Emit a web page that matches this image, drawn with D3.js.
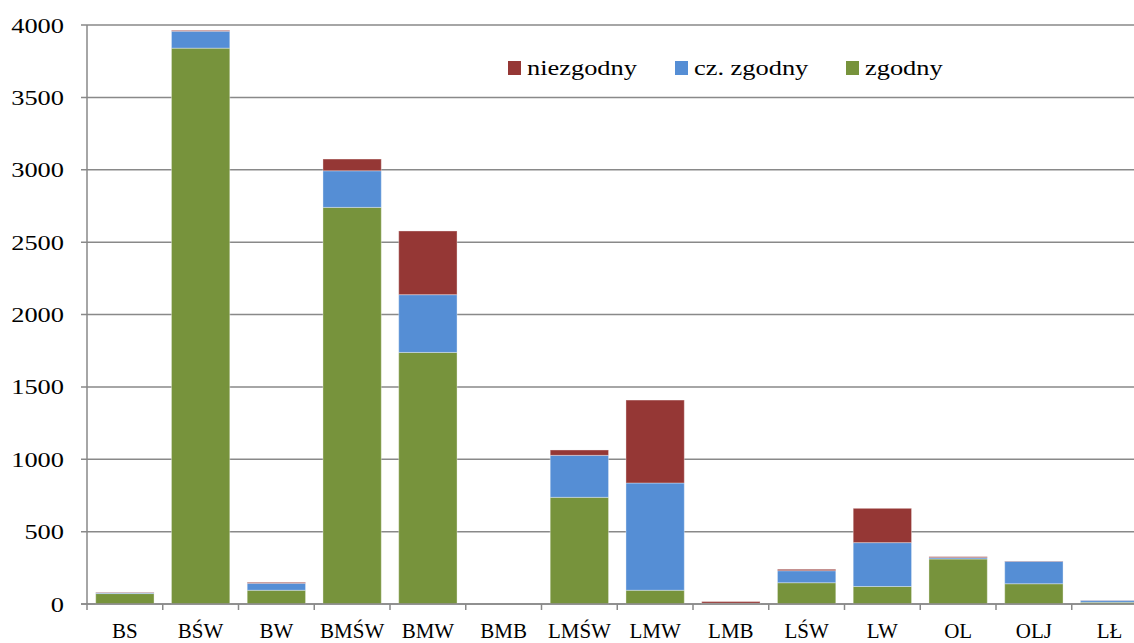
<!DOCTYPE html>
<html>
<head>
<meta charset="utf-8">
<script src="https://cdn.jsdelivr.net/npm/d3@7"></script>
<style>
  body { margin: 0; background: #fff; }
  svg text { font-family: "Liberation Serif", "Times New Roman", serif; fill: #000; }
</style>
</head>
<body>
<div id="chart"></div>
<script>
// categories and stacked series
const categories = ["BS", "BŚW", "BW", "BMŚW", "BMW", "BMB", "LMŚW", "LMW", "LMB", "LŚW", "LW", "OL", "OLJ", "LŁ"];
const zgodny    = [72, 3840, 95, 2740, 1738, 0, 737, 95, 3, 147, 121, 311, 140, 12];
const czZgodny  = [6, 117, 48, 253, 399, 0, 290, 741, 2, 83, 303, 9, 155, 13];
const niezgodny = [3, 6, 7, 81, 440, 0, 37, 573, 12, 10, 237, 7, 2, 1];
const yTicks = [0, 500, 1000, 1500, 2000, 2500, 3000, 3500, 4000];

const seriesNames = ["zgodny", "cz. zgodny", "niezgodny"];
const colors = {"zgodny": "#77933c", "cz. zgodny": "#558ed5", "niezgodny": "#953735"};
const legendOrder = ["niezgodny", "cz. zgodny", "zgodny"];

const W = 1134, H = 643;
const sx = 1.2; // y labels and legend look horizontally stretched in the reference

let svg = d3.select("#chart").append("svg")
    .attr("width", W)
    .attr("height", H);

let table = categories.map((c, i) => ({
    cat: c,
    "zgodny": zgodny[i],
    "cz. zgodny": czZgodny[i],
    "niezgodny": niezgodny[i]
}));

let x = d3.scaleBand()
    .domain(categories)
    .range([87, 87 + 14 * 75.75])
    .paddingInner(0.23)
    .paddingOuter(0.115);

let y = d3.scaleLinear()
    .domain([0, 4000])
    .range([604, 25]);

// gridlines
svg.append("g").selectAll("line")
    .data(yTicks)
    .join("line")
    .attr("x1", 81)
    .attr("x2", W)
    .attr("y1", d => y(d))
    .attr("y2", d => y(d))
    .attr("stroke", "#898989")
    .attr("stroke-width", 1.5);

// y labels
svg.append("g").selectAll("text")
    .data(yTicks)
    .join("text")
    .attr("transform", d => `translate(64,${y(d) + 7.5}) scale(${sx},1)`)
    .attr("text-anchor", "end")
    .attr("font-size", 22)
    .text(d => d);

// y axis line
svg.append("line")
    .attr("x1", 87).attr("x2", 87)
    .attr("y1", y(4000)).attr("y2", y(0))
    .attr("stroke", "#898989")
    .attr("stroke-width", 1.5);

// stacked bars
let stack = d3.stack().keys(seriesNames);
let layers = stack(table);

svg.append("g").selectAll("g")
    .data(layers)
    .join("g")
    .attr("fill", d => colors[d.key])
    .selectAll("rect")
    .data(d => d)
    .join("rect")
    .attr("x", d => x(d.data.cat))
    .attr("width", x.bandwidth())
    .attr("y", d => y(d[1]))
    .attr("height", d => Math.max(0, y(d[0]) - y(d[1])))
    .attr("stroke", "#ffffff")
    .attr("stroke-opacity", 0.35)
    .attr("stroke-width", 1);

// x axis line and ticks
svg.append("line")
    .attr("x1", 81).attr("x2", W)
    .attr("y1", y(0)).attr("y2", y(0))
    .attr("stroke", "#898989")
    .attr("stroke-width", 1.5);

svg.append("g").selectAll("line")
    .data(d3.range(categories.length + 1))
    .join("line")
    .attr("x1", i => 87 + i * x.step())
    .attr("x2", i => 87 + i * x.step())
    .attr("y1", y(0))
    .attr("y2", y(0) + 6)
    .attr("stroke", "#898989")
    .attr("stroke-width", 1.5);

// x labels
svg.append("g").selectAll("text")
    .data(categories)
    .join("text")
    .attr("x", d => x(d) + x.bandwidth() / 2)
    .attr("y", 638)
    .attr("text-anchor", "middle")
    .attr("font-size", 21)
    .text(d => d);

// legend
const legendX = [508, 675, 846];
let legend = svg.append("g").selectAll("g")
    .data(legendOrder)
    .join("g")
    .attr("transform", (d, i) => `translate(${legendX[i]},61)`);

legend.append("rect")
    .attr("width", 13)
    .attr("height", 14)
    .attr("fill", d => colors[d]);

legend.append("text")
    .attr("transform", `translate(19,14) scale(${sx},1)`)
    .attr("font-size", 22)
    .text(d => d);
</script>
</body>
</html>
